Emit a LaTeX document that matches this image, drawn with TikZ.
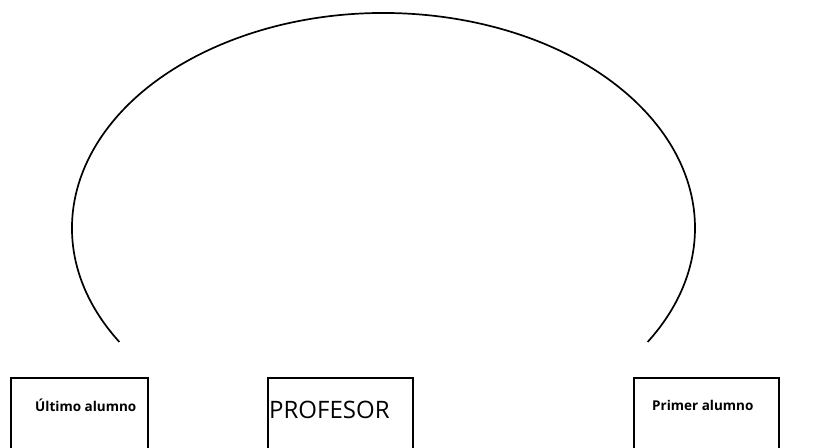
\documentclass[tikz,border=0pt]{standalone}
\usepackage{fontspec}
\setmainfont{Open Sans}
\usetikzlibrary{calc}
\begin{document}
\begin{tikzpicture}[x=1pt,y=1pt,
  boxst/.style={draw=black, line width=1.8pt, rectangle, anchor=north west, inner sep=0pt},
  lbl/.style={font=\fontsize{13.5}{15}\selectfont\bfseries, anchor=west, inner sep=0pt},
  big/.style={font=\fontsize{24}{28}\selectfont, anchor=west, inner sep=0pt}]
\useasboundingbox (0,0) rectangle (816,447);
\clip (0,0) rectangle (816,447);
% boxes (bottoms run off the page)
\node[boxst, minimum width=137pt, minimum height=100pt] (ultimo) at (10,70) {};
\node[boxst, minimum width=145pt, minimum height=100pt] (profesor) at (267,70) {};
\node[boxst, minimum width=145pt, minimum height=100pt] (primer) at (633,70) {};
\node[lbl] (tultimo) at (35,42) {Último alumno};
\node[big] (tprofesor) at (269,37) {PROFESOR};
\node[lbl] (tprimer) at (652,42) {Primer alumno};
% arc
\coordinate (arcstart) at ($(383.5,219)+(212:311.5 and 215)$);
\draw[line width=1.7pt] (arcstart) arc[start angle=212, end angle=-32, x radius=311.5, y radius=215];
\end{tikzpicture}
\end{document}
